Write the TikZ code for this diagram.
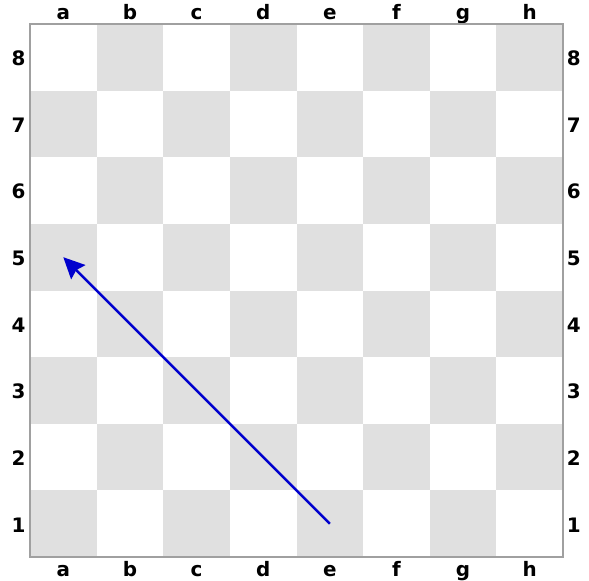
\documentclass[tikz,border=0pt]{standalone}
\usepackage{fontspec}
\setmainfont{DejaVu Sans}
\usepackage{xcolor}
\usetikzlibrary{arrows.meta}
\definecolor{darksq}{RGB}{224,224,224}
\definecolor{edgegray}{RGB}{160,160,160}
\definecolor{moveblue}{RGB}{0,0,205}
\tikzset{
    darksquare/.style={fill=darksq},
    boardedge/.style={draw=edgegray, line width=0.7pt},
    coordlabel/.style={font=\fontsize{8.5}{10}\selectfont\bfseries, text=black, inner sep=0pt,
        text height=1.6ex, text depth=0.3ex},
    movearrow/.style={color=moveblue, line width=1.1pt, -{Stealth[length=9pt, width=8.5pt, inset=1.2pt]}}
}

\begin{document}
\begin{tikzpicture}
    \useasboundingbox (-0.45,-0.345) rectangle (8.39,8.36);
    % squares
    \foreach \f [count=\i] in {a,b,c,d,e,f,g,h}{
        \foreach \r in {1,...,8}{
            \pgfmathparse{int(mod(\i+\r,2))}
            \ifnum\pgfmathresult=0
                \fill[darksquare] (\i-1,\r-1) rectangle (\i,\r);
            \fi
            \coordinate (\f\r) at (\i-0.5,\r-0.5);
        }
        \node[coordlabel] (top-\f) at (\i-0.5,8.19) {\f};
        \node[coordlabel] (bot-\f) at (\i-0.5,-0.17) {\f};
    }
    \foreach \r in {1,...,8}{
        \node[coordlabel] (left-\r) at (-0.17,\r-0.5) {\r};
        \node[coordlabel] (right-\r) at (8.16,\r-0.5) {\r};
    }
    \draw[boardedge] (0,0) rectangle (8,8);
    % move
    \draw[movearrow] (e1) -- (a5);
\end{tikzpicture}
\end{document}
